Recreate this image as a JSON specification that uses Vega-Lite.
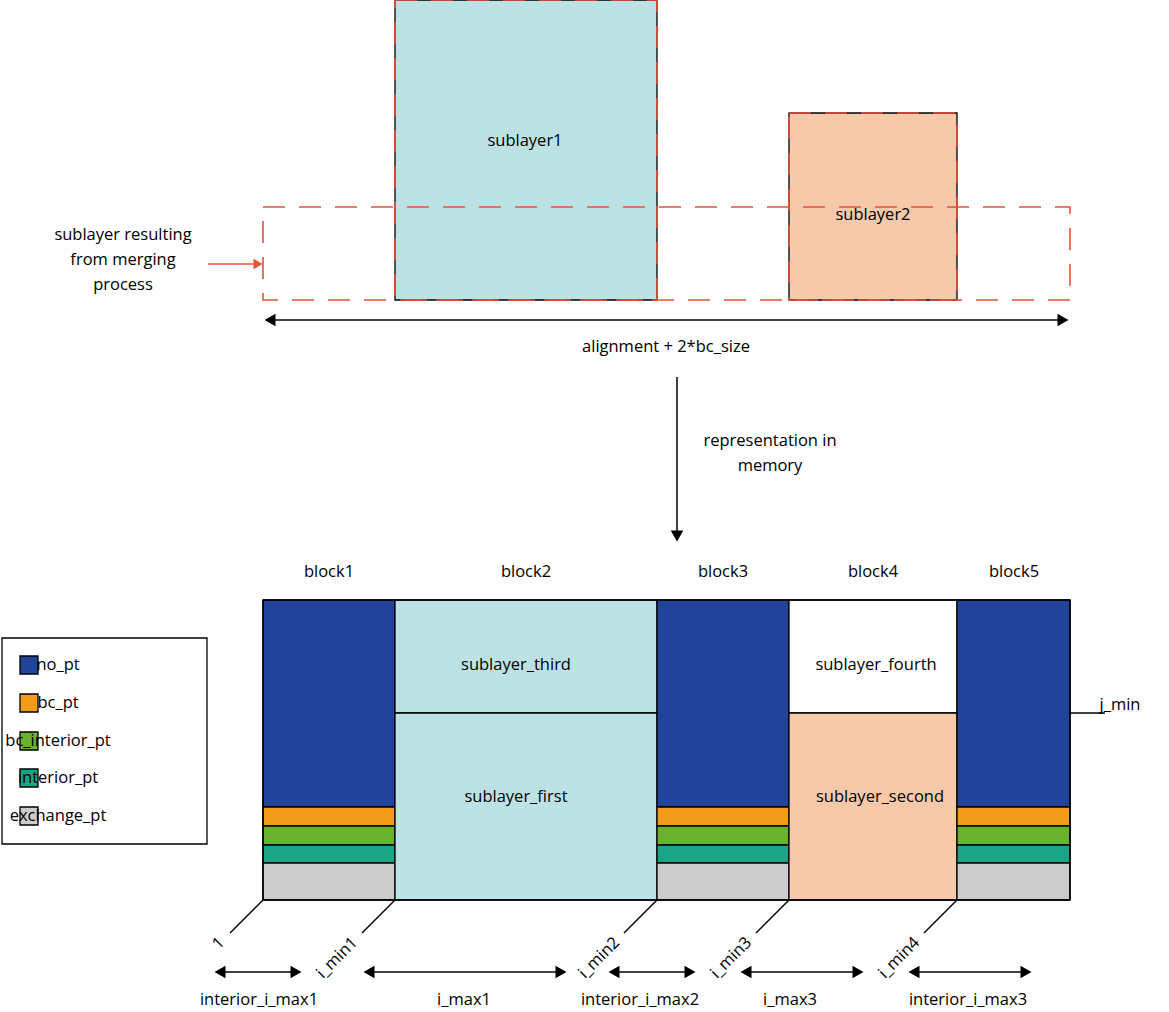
{
  "$schema": "https://vega.github.io/schema/vega-lite/v6.json",
  "width": 1169,
  "height": 1012,
  "autosize": "none",
  "padding": 0,
  "background": "white",
  "config": {"view": {"stroke": null}, "font": "Open Sans"},
  "datasets": {
    "cells": [
      {"x": 395, "x2": 657, "y": 0, "y2": 300, "kind": "sublayer_a"},
      {"x": 789, "x2": 957, "y": 113, "y2": 300, "kind": "sublayer_b"},
      {"x": 263, "x2": 395, "y": 600, "y2": 807, "kind": "no_pt"},
      {"x": 263, "x2": 395, "y": 807, "y2": 826, "kind": "bc_pt"},
      {"x": 263, "x2": 395, "y": 826, "y2": 845, "kind": "bc_interior_pt"},
      {"x": 263, "x2": 395, "y": 845, "y2": 863, "kind": "interior_pt"},
      {"x": 263, "x2": 395, "y": 863, "y2": 900, "kind": "exchange_pt"},
      {"x": 395, "x2": 657, "y": 600, "y2": 713, "kind": "sublayer_a"},
      {"x": 395, "x2": 657, "y": 713, "y2": 900, "kind": "sublayer_a"},
      {"x": 657, "x2": 789, "y": 600, "y2": 807, "kind": "no_pt"},
      {"x": 657, "x2": 789, "y": 807, "y2": 826, "kind": "bc_pt"},
      {"x": 657, "x2": 789, "y": 826, "y2": 845, "kind": "bc_interior_pt"},
      {"x": 657, "x2": 789, "y": 845, "y2": 863, "kind": "interior_pt"},
      {"x": 657, "x2": 789, "y": 863, "y2": 900, "kind": "exchange_pt"},
      {"x": 789, "x2": 957, "y": 600, "y2": 713, "kind": "empty"},
      {"x": 789, "x2": 957, "y": 713, "y2": 900, "kind": "sublayer_b"},
      {"x": 957, "x2": 1070, "y": 600, "y2": 807, "kind": "no_pt"},
      {"x": 957, "x2": 1070, "y": 807, "y2": 826, "kind": "bc_pt"},
      {"x": 957, "x2": 1070, "y": 826, "y2": 845, "kind": "bc_interior_pt"},
      {"x": 957, "x2": 1070, "y": 845, "y2": 863, "kind": "interior_pt"},
      {"x": 957, "x2": 1070, "y": 863, "y2": 900, "kind": "exchange_pt"},
      {"x": 2, "x2": 207, "y": 638, "y2": 844, "kind": "empty"},
      {"x": 20, "x2": 38, "y": 656, "y2": 674, "kind": "no_pt"},
      {"x": 20, "x2": 38, "y": 694, "y2": 712, "kind": "bc_pt"},
      {"x": 20, "x2": 38, "y": 732, "y2": 750, "kind": "bc_interior_pt"},
      {"x": 20, "x2": 38, "y": 769, "y2": 787, "kind": "interior_pt"},
      {"x": 20, "x2": 38, "y": 807, "y2": 825, "kind": "exchange_pt"}
    ],
    "dashed": [
      {"x": 395, "x2": 657, "y": 0, "y2": 300},
      {"x": 789, "x2": 957, "y": 113, "y2": 300},
      {"x": 263, "x2": 1070, "y": 207, "y2": 300}
    ],
    "lines": [
      {"x": 263, "x2": 1070, "y": 600, "y2": 600},
      {"x": 263, "x2": 1070, "y": 900, "y2": 900},
      {"x": 263, "x2": 263, "y": 600, "y2": 900},
      {"x": 1070, "x2": 1070, "y": 600, "y2": 900},
      {"x": 270, "x2": 1063, "y": 320, "y2": 320},
      {"x": 677, "x2": 677, "y": 377, "y2": 535},
      {"x": 1070, "x2": 1105, "y": 713, "y2": 713},
      {"x": 263, "x2": 230, "y": 900, "y2": 933},
      {"x": 395, "x2": 362, "y": 900, "y2": 933},
      {"x": 657, "x2": 624, "y": 900, "y2": 933},
      {"x": 789, "x2": 756, "y": 900, "y2": 933},
      {"x": 957, "x2": 924, "y": 900, "y2": 933},
      {"x": 220, "x2": 296, "y": 972, "y2": 972},
      {"x": 369, "x2": 561, "y": 972, "y2": 972},
      {"x": 614, "x2": 690, "y": 972, "y2": 972},
      {"x": 746, "x2": 858, "y": 972, "y2": 972},
      {"x": 914, "x2": 1026, "y": 972, "y2": 972}
    ],
    "heads": [
      {"x": 270, "y": 320, "dir": "triangle-left"},
      {"x": 1063, "y": 320, "dir": "triangle-right"},
      {"x": 677, "y": 536, "dir": "triangle-down"},
      {"x": 220, "y": 972, "dir": "triangle-left"},
      {"x": 296, "y": 972, "dir": "triangle-right"},
      {"x": 369, "y": 972, "dir": "triangle-left"},
      {"x": 561, "y": 972, "dir": "triangle-right"},
      {"x": 614, "y": 972, "dir": "triangle-left"},
      {"x": 690, "y": 972, "dir": "triangle-right"},
      {"x": 746, "y": 972, "dir": "triangle-left"},
      {"x": 858, "y": 972, "dir": "triangle-right"},
      {"x": 914, "y": 972, "dir": "triangle-left"},
      {"x": 1026, "y": 972, "dir": "triangle-right"}
    ],
    "labels": [
      {"x": 525, "y": 141, "t": "sublayer1", "a": "center"},
      {"x": 873, "y": 215, "t": "sublayer2", "a": "center"},
      {"x": 123, "y": 235, "t": "sublayer resulting", "a": "center"},
      {"x": 123, "y": 260, "t": "from merging", "a": "center"},
      {"x": 123, "y": 285, "t": "process", "a": "center"},
      {"x": 666, "y": 347, "t": "alignment + 2*bc_size", "a": "center"},
      {"x": 770, "y": 441, "t": "representation in", "a": "center"},
      {"x": 770, "y": 466, "t": "memory", "a": "center"},
      {"x": 329, "y": 572, "t": "block1", "a": "center"},
      {"x": 526, "y": 572, "t": "block2", "a": "center"},
      {"x": 723, "y": 572, "t": "block3", "a": "center"},
      {"x": 873, "y": 572, "t": "block4", "a": "center"},
      {"x": 1014, "y": 572, "t": "block5", "a": "center"},
      {"x": 516, "y": 665, "t": "sublayer_third", "a": "center"},
      {"x": 516, "y": 797, "t": "sublayer_first", "a": "center"},
      {"x": 876, "y": 665, "t": "sublayer_fourth", "a": "center"},
      {"x": 880, "y": 797, "t": "sublayer_second", "a": "center"},
      {"x": 1120, "y": 705, "t": "j_min", "a": "left"},
      {"x": 58, "y": 665, "t": "no_pt", "a": "left"},
      {"x": 58, "y": 703, "t": "bc_pt", "a": "left"},
      {"x": 58, "y": 741, "t": "bc_interior_pt", "a": "left"},
      {"x": 58, "y": 778, "t": "interior_pt", "a": "left"},
      {"x": 58, "y": 816, "t": "exchange_pt", "a": "left"},
      {"x": 259, "y": 1000, "t": "interior_i_max1", "a": "center"},
      {"x": 464, "y": 1000, "t": "i_max1", "a": "center"},
      {"x": 640, "y": 1000, "t": "interior_i_max2", "a": "center"},
      {"x": 790, "y": 1000, "t": "i_max3", "a": "center"},
      {"x": 968, "y": 1000, "t": "interior_i_max3", "a": "center"}
    ],
    "rotated": [
      {"x": 222, "y": 940, "t": "1"},
      {"x": 355, "y": 940, "t": "i_min1"},
      {"x": 617, "y": 940, "t": "i_min2"},
      {"x": 749, "y": 940, "t": "i_min3"},
      {"x": 917, "y": 940, "t": "i_min4"}
    ]
  },
  "encoding": {
    "x": {"field": "x", "type": "quantitative", "scale": {"domain": [0, 1169]}, "axis": null},
    "y": {"field": "y", "type": "quantitative", "scale": {"domain": [0, 1012], "reverse": true}, "axis": null}
  },
  "layer": [
    {
      "data": {"name": "cells"},
      "mark": {"type": "rect", "stroke": "black", "strokeWidth": 1.3},
      "encoding": {
        "x2": {"field": "x2"},
        "y2": {"field": "y2"},
        "fill": {
          "field": "kind",
          "type": "nominal",
          "legend": null,
          "scale": {
            "domain": ["sublayer_a", "sublayer_b", "empty", "no_pt", "bc_pt", "bc_interior_pt", "interior_pt", "exchange_pt"],
            "range": ["#bde2e6", "#f6c9aa", "#ffffff", "#21449a", "#f39c1a", "#6ab22e", "#1aa587", "#cccccc"]
          }
        }
      }
    },
    {
      "data": {"name": "dashed"},
      "mark": {"type": "rect", "fill": null, "stroke": "#e8503a", "strokeWidth": 1.6, "strokeDash": [22, 14]},
      "encoding": {"x2": {"field": "x2"}, "y2": {"field": "y2"}}
    },
    {
      "data": {"values": [{"x": 208, "x2": 256, "y": 264, "y2": 264}]},
      "mark": {"type": "rule", "stroke": "#e8503a", "strokeWidth": 1.6},
      "encoding": {"x2": {"field": "x2"}, "y2": {"field": "y2"}}
    },
    {
      "data": {"values": [{"x": 258, "y": 264}]},
      "mark": {"type": "point", "shape": "triangle-right", "filled": true, "fill": "#e8503a", "size": 110, "opacity": 1},
      "encoding": {}
    },
    {
      "data": {"name": "lines"},
      "mark": {"type": "rule", "stroke": "black", "strokeWidth": 1.5},
      "encoding": {"x2": {"field": "x2"}, "y2": {"field": "y2"}}
    },
    {
      "data": {"name": "heads"},
      "mark": {"type": "point", "filled": true, "fill": "black", "size": 160, "opacity": 1},
      "encoding": {"shape": {"field": "dir", "type": "nominal", "scale": null}}
    },
    {
      "data": {"name": "labels"},
      "mark": {"type": "text", "fontSize": 16.5, "baseline": "middle", "color": "black"},
      "encoding": {"text": {"field": "t"}, "align": {"field": "a", "scale": null}}
    },
    {
      "data": {"name": "rotated"},
      "mark": {"type": "text", "fontSize": 16.5, "angle": 315, "align": "right", "baseline": "middle", "color": "black"},
      "encoding": {"text": {"field": "t"}}
    }
  ]
}
